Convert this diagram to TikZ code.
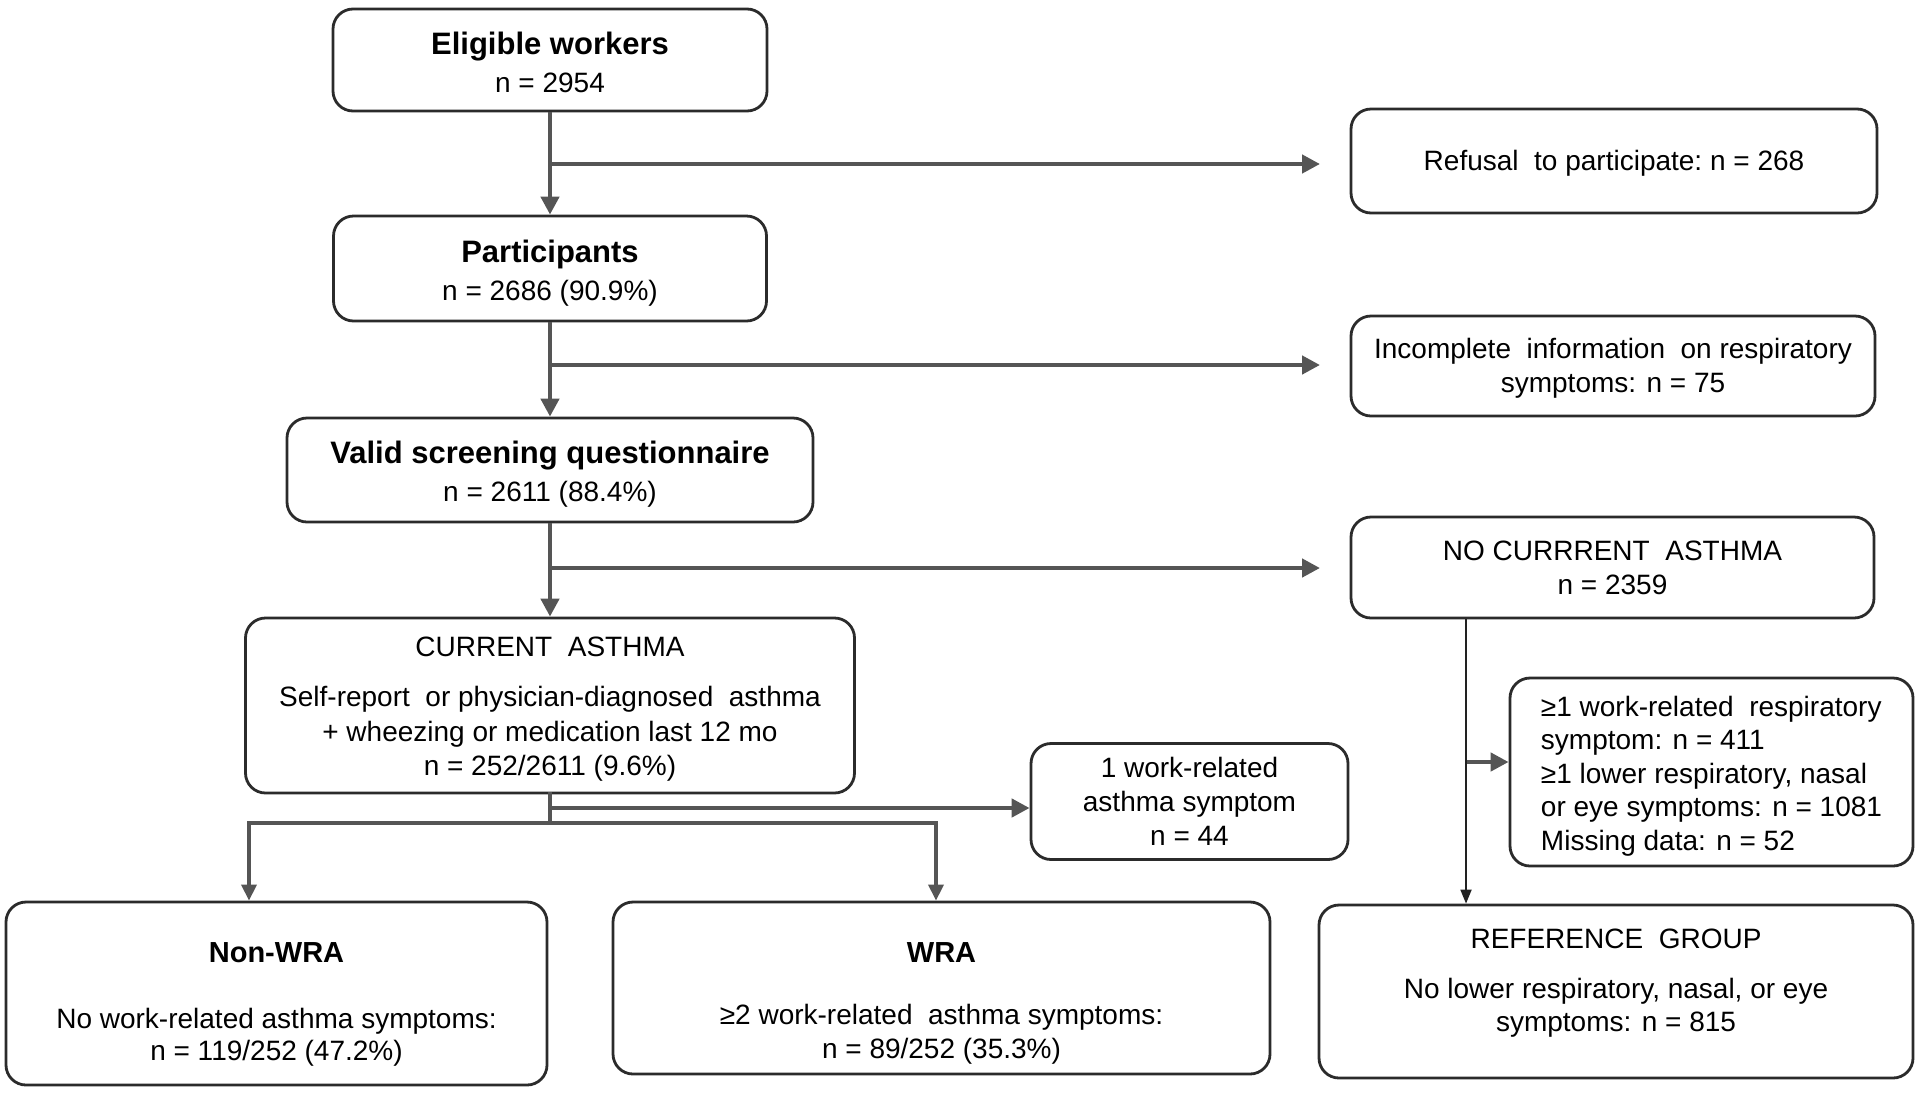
\documentclass[tikz,border=0pt]{standalone}
\usepackage{fontspec}
\setmainfont{Liberation Sans}
\usetikzlibrary{arrows.meta,calc}
\definecolor{boxc}{HTML}{2B2B2B}
\definecolor{linec}{HTML}{555555}
\definecolor{thinc}{HTML}{222222}
\begin{document}
\begin{tikzpicture}[x=0.5pt,y=-0.5pt,
  box/.style={draw=boxc,line width=1.4pt,rounded corners=10pt,inner sep=0pt},
  txt/.style={align=center,inner sep=0pt,text=black,font=\fontsize{14}{17}\selectfont},
  ttl/.style={font=\bfseries\fontsize{15.5}{19}\selectfont},
  arr/.style={draw=linec,line width=2.2pt,-{Triangle[length=9pt,width=9pt]}},
  arrs/.style={draw=linec,line width=1.7pt,-{Triangle[length=8pt,width=7.5pt]}},
  arrt/.style={draw=thinc,line width=0.9pt,-{Triangle[length=7pt,width=5.5pt]}},
  ln/.style={draw=linec,line width=2.2pt,line cap=rect}]
\fill[white] (0,0) rectangle (1920,1093);
\useasboundingbox (0,0) rectangle (1920,1093);

% main column
\node[box,minimum width=217pt,minimum height=51pt] (elig) at (550,60) {};
\node[txt,font=\fontsize{14}{19}\selectfont] (eligt) at (550,62)
  {{\bfseries\fontsize{15.5}{19}\selectfont Eligible workers}\\n = 2954};
\node[box,minimum width=216.5pt,minimum height=52.5pt] (part) at (550,268.5) {};
\node[txt,font=\fontsize{14}{19}\selectfont] (partt) at (550,273)
  {{\bfseries\fontsize{15.5}{19}\selectfont Participants}\\n = 2686 (90.9\%)};
\node[box,minimum width=263pt,minimum height=52pt] (valid) at (550,470) {};
\node[txt,font=\fontsize{14}{19}\selectfont] (validt) at (550,474)
  {{\bfseries\fontsize{15.5}{19}\selectfont Valid screening questionnaire}\\n = 2611 (88.4\%)};
\node[box,minimum width=304.5pt,minimum height=87.5pt] (cur) at (550,705.5) {};
\node[txt,font=\fontsize{14}{17.25}\selectfont] (curt) at (550,709.5)
  {CURRENT\ \ ASTHMA\\[7.75pt]Self-report\ \ or physician-diagnosed\ \ asthma\\+ wheezing or medication last 12 mo\\n = 252/2611 (9.6\%)};

% right column
\node[box,minimum width=263pt,minimum height=52pt] (refusal) at (1614,161) {};
\node[txt] (refusalt) at (1614,163.5) {Refusal\ \ to participate:\ n = 268};
\node[box,minimum width=262pt,minimum height=50pt] (incomp) at (1613,366) {};
\node[txt] (incompt) at (1613,368.5) {Incomplete\ \ information\ \ on respiratory\\symptoms: n = 75};
\node[box,minimum width=261.5pt,minimum height=50.5pt] (nocur) at (1612.5,567.5) {};
\node[txt] (nocurt) at (1612.5,567.5) {NO CURRRENT\ \ ASTHMA\\n = 2359};
\node[box,minimum width=158.5pt,minimum height=58pt] (one) at (1189.5,801.5) {};
\node[txt] (onet) at (1189.5,801.5) {1 work-related\\asthma symptom\\n = 44};
\node[box,minimum width=201.5pt,minimum height=94pt] (ge1) at (1711.5,772) {};
\node[txt,align=left,font=\fontsize{14}{16.7}\selectfont] (ge1t) at (1711.5,776)
  {≥1 work-related\ \ respiratory\\symptom: n = 411\\≥1 lower respiratory, nasal\\or eye symptoms: n = 1081\\Missing data: n = 52};

% bottom row
\node[box,minimum width=270.5pt,minimum height=91.5pt] (nonwra) at (276.5,993.5) {};
\node[txt,font=\fontsize{14}{16}\selectfont] (nonwrat) at (276.5,1004.5)
  {{\bfseries\fontsize{14.5}{16}\selectfont Non-WRA}\\[17pt]No work-related asthma symptoms:\\n = 119/252 (47.2\%)};
\node[box,minimum width=328.5pt,minimum height=86pt] (wra) at (941.5,988) {};
\node[txt,font=\fontsize{14}{17}\selectfont] (wrat) at (941.5,1003.5)
  {{\bfseries\fontsize{14.5}{17}\selectfont WRA}\\[14pt]≥2 work-related\ \ asthma symptoms:\\n = 89/252 (35.3\%)};
\node[box,minimum width=297pt,minimum height=86.5pt] (ref) at (1616,991.5) {};
\node[txt,font=\fontsize{14}{16.5}\selectfont] (reft) at (1616,983)
  {REFERENCE\ \ GROUP\\[8.5pt]No lower respiratory, nasal, or eye\\symptoms: n = 815};

% connectors
\draw[arr] (elig.south) -- (part.north);
\draw[arr] (part.south) -- (valid.north);
\draw[arr] (valid.south) -- (cur.north);

\coordinate (j1) at (550,164); \coordinate (e1) at (1320,164);
\coordinate (j2) at (550,365); \coordinate (e2) at (1320,365);
\coordinate (j3) at (550,568); \coordinate (e3) at (1320,568);
\draw[arr] (j1) -- (e1);
\draw[arr] (j2) -- (e2);
\draw[arr] (j3) -- (e3);

\coordinate (j4) at (550,808);
\coordinate (j5) at (550,823);
\coordinate (bl) at (249,823);
\coordinate (br) at (936,823);
\draw[ln] (cur.south) -- (j5);
\draw[ln] (bl) -- (br);
\draw[arr] (j4) -- (j4 -| one.west);
\draw[arrs] (bl) -- (bl |- nonwra.north);
\draw[arrs] (br) -- (br |- wra.north);

\coordinate (n1) at (1466,0);
\draw[arrt] (n1 |- nocur.south) -- (n1 |- ref.north);
\coordinate (g0) at (1467,762);
\draw[arr] (g0) -- (g0 -| ge1.west);
\end{tikzpicture}
\end{document}
